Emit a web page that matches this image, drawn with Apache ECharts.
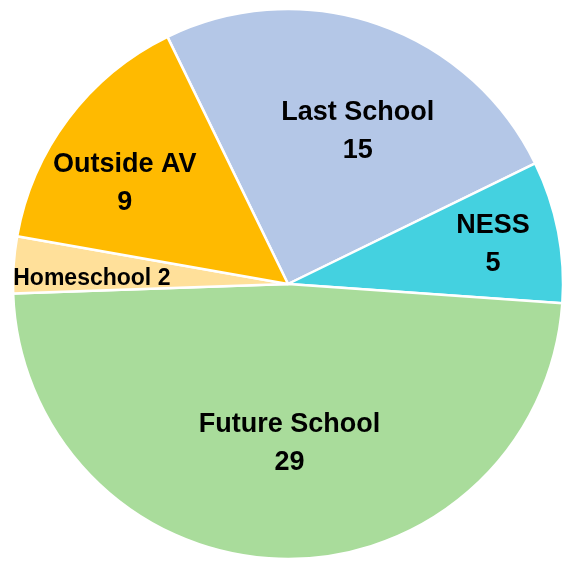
<!DOCTYPE html>
<html>
<head>
<meta charset="utf-8">
<script src="https://cdn.jsdelivr.net/npm/echarts@6/dist/echarts.min.js"></script>
<style>
html,body{margin:0;padding:0;background:#fff;}
#chart{width:576px;height:569px;}
</style>
</head>
<body>
<div id="chart"></div>
<script>
const categories = ['Last School', 'NESS', 'Future School', 'Homeschool', 'Outside AV'];
const values = [15, 5, 29, 2, 9];
const colors = ['#B4C7E7', '#44D1E0', '#A9DC9B', '#FFE09A', '#FFBA00'];
const labelOffsets = [[24, -20], [67, -13], [4, 19], [-56, 4], [-51, -16]];
const singleLine = [false, false, false, true, false];

const data = categories.map((name, i) => ({
  name: name,
  value: values[i],
  itemStyle: { color: colors[i] },
  label: {
    offset: labelOffsets[i],
    fontSize: singleLine[i] ? 23 : 27,
    lineHeight: singleLine[i] ? 28 : 38,
    formatter: singleLine[i] ? '{b} {c}' : '{b}\n{c}'
  }
}));

const chart = echarts.init(document.getElementById('chart'));
chart.setOption({
  animation: false,
  backgroundColor: '#ffffff',
  series: [{
    type: 'pie',
    center: [288, 284],
    radius: 275,
    startAngle: 116,
    clockwise: true,
    itemStyle: { borderColor: '#ffffff', borderWidth: 2.5 },
    label: {
      show: true,
      position: 'inside',
      color: '#000000',
      fontFamily: 'Liberation Sans, Arial, sans-serif',
      fontWeight: 'bold',
      align: 'center'
    },
    labelLine: { show: false },
    emphasis: { disabled: true },
    data: data
  }]
});
</script>
</body>
</html>
